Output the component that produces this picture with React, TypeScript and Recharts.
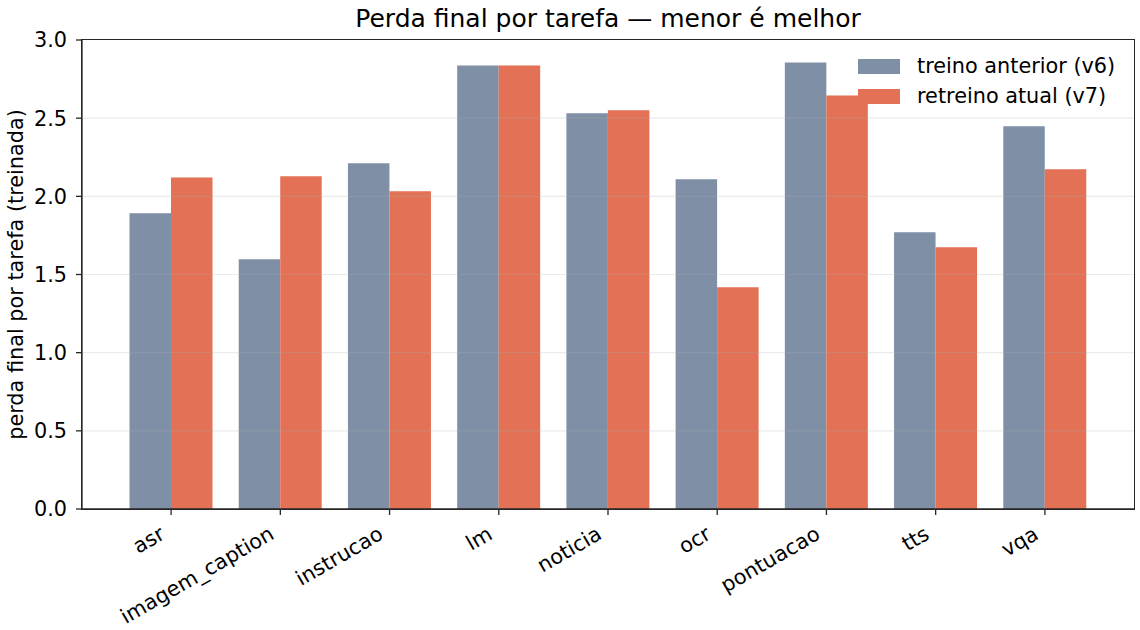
import { Bar, BarChart, ReferenceLine, XAxis, YAxis } from "recharts";

const tarefas = ["asr", "imagem_caption", "instrucao", "lm", "noticia", "ocr", "pontuacao", "tts", "vqa"];
const treinoAnterior = [1.891, 1.597, 2.211, 2.837, 2.531, 2.109, 2.856, 1.77, 2.449];
const retreinoAtual = [2.121, 2.128, 2.032, 2.837, 2.55, 1.419, 2.645, 1.674, 2.174];
const yTicks = [0, 0.5, 1, 1.5, 2, 2.5, 3];
const gridTicks = [0.5, 1, 1.5, 2, 2.5];

const data = tarefas.map((tarefa, i) => ({
  tarefa,
  v6: treinoAnterior[i],
  v7: retreinoAtual[i],
}));

const font = "'DejaVu Sans', sans-serif";
const COR_V6 = "#7f8fa6";
const COR_V7 = "#e27155";
const EIXO = "#262626";
const FS = 20.8;

const XTick = (props: any) => {
  const { x, y, payload } = props;
  return (
    <g transform={`translate(${x - 5},${y + 21}) rotate(-30)`}>
      <text textAnchor="end" fontSize={FS} fontFamily={font} fill="#000">
        {payload.value}
      </text>
    </g>
  );
};

const legenda = [
  { nome: "treino anterior (v6)", cor: COR_V6 },
  { nome: "retreino atual (v7)", cor: COR_V7 },
];

export default function App() {
  return (
    <div style={{ position: "absolute", left: 0, top: 0, width: 1140, height: 630, background: "#fff" }}>
      <div
        style={{
          position: "absolute",
          left: 82,
          width: 1052,
          top: 4,
          textAlign: "center",
          fontFamily: font,
          fontSize: 25,
          color: "#000",
        }}
      >
        Perda final por tarefa — menor é melhor
      </div>
      <div
        style={{ position: "absolute", left: 858, top: 51, fontFamily: font, fontSize: FS, color: "#000", zIndex: 2 }}
      >
        {legenda.map((item) => (
          <div key={item.nome} style={{ display: "flex", alignItems: "center", height: 30 }}>
            <span style={{ width: 42, height: 15, background: item.cor, display: "inline-block" }} />
            <span style={{ marginLeft: 17 }}>{item.nome}</span>
          </div>
        ))}
      </div>
      {/* moldura do eixo (spines de cima e da direita) */}
      <div
        style={{
          position: "absolute",
          left: 81.35,
          top: 39.35,
          width: 1052,
          height: 469,
          border: `1.3px solid ${EIXO}`,
          pointerEvents: "none",
          zIndex: 1,
        }}
      />
      <BarChart
        width={1140}
        height={630}
        data={data}
        margin={{ top: 40, right: 6, left: 0, bottom: 0 }}
        barGap={0}
        barSize={41.5}
      >
        <XAxis
          dataKey="tarefa"
          height={121}
          padding={{ left: 34.5, right: 34.5 }}
          tick={<XTick />}
          tickSize={6}
          interval={0}
          axisLine={{ stroke: EIXO, strokeWidth: 1.3 }}
          tickLine={{ stroke: EIXO, strokeWidth: 1.3 }}
        />
        <YAxis
          width={82}
          domain={[0, 3]}
          ticks={yTicks}
          tickFormatter={(v: number) => v.toFixed(1)}
          tickSize={6}
          tickMargin={9}
          tick={{ fontSize: FS, fontFamily: font, fill: "#000" }}
          axisLine={{ stroke: EIXO, strokeWidth: 1.3 }}
          tickLine={{ stroke: EIXO, strokeWidth: 1.3 }}
          label={{
            value: "perda final por tarefa (treinada)",
            angle: -90,
            position: "insideLeft",
            dx: 11,
            style: { textAnchor: "middle", fontSize: FS, fontFamily: font, fill: "#000" },
          }}
        />
        <Bar dataKey="v6" name="treino anterior (v6)" fill={COR_V6} isAnimationActive={false} />
        <Bar dataKey="v7" name="retreino atual (v7)" fill={COR_V7} isAnimationActive={false} />
        {gridTicks.map((t) => (
          <ReferenceLine key={t} y={t} stroke="#b0b0b0" strokeOpacity={0.25} strokeWidth={1.2} />
        ))}
      </BarChart>
    </div>
  );
}
